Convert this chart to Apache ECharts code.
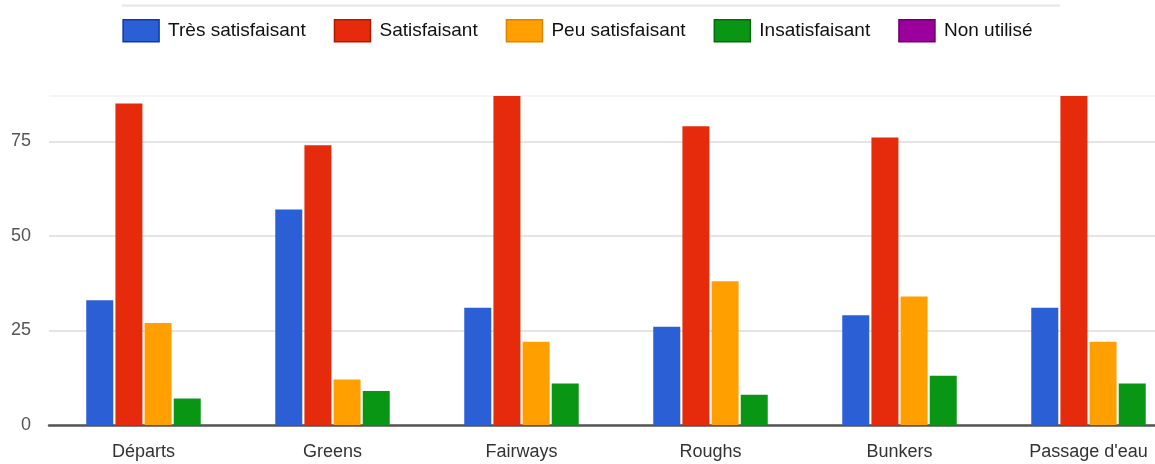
<!DOCTYPE html>
<html>
<head>
<meta charset="utf-8">
<script src="https://cdn.jsdelivr.net/npm/echarts@6/dist/echarts.min.js"></script>
<style>
html,body{margin:0;padding:0;background:#fff;}
#chart{width:1155px;height:464px;}
</style>
</head>
<body>
<div id="chart"></div>
<script>
const categories = ['Départs', 'Greens', 'Fairways', 'Roughs', 'Bunkers', "Passage d'eau"];
const tresSatisfaisant = [33, 57, 31, 26, 29, 31];
const satisfaisant = [85, 74, 88, 79, 76, 88];
const peuSatisfaisant = [27, 12, 22, 38, 34, 22];
const insatisfaisant = [7, 9, 11, 8, 13, 11];
const nonUtilise = [0, 0, 0, 0, 0, 0];
const yTicks = [0, 25, 50, 75];

const FONT = "'Liberation Sans', Arial, sans-serif";
const colors = ['#2a5fd6', '#e52b0c', '#ffa000', '#0a9615', '#9c009c'];
const borders = ['#0f3aa8', '#b01800', '#e08400', '#056b0a', '#6b006b'];
const names = ['Très satisfaisant', 'Satisfaisant', 'Peu satisfaisant', 'Insatisfaisant', 'Non utilisé'];
const datasets = [tresSatisfaisant, satisfaisant, peuSatisfaisant, insatisfaisant, nonUtilise];

const chart = echarts.init(document.getElementById('chart'), null, {renderer: 'canvas'});
chart.setOption({
  animation: false,
  color: colors,
  graphic: [{
    type: 'line', shape: {x1: 122, y1: 5.5, x2: 1060, y2: 5.5},
    style: {stroke: '#e6e6e6', lineWidth: 2}, silent: true
  }],
  legend: {
    top: 14,
    left: 'center',
    icon: 'rect',
    itemWidth: 36,
    itemHeight: 22,
    itemGap: 28,
    textStyle: {fontFamily: FONT, fontSize: 19, color: '#111', padding: [0, 0, 0, 4]},
    data: names.map((n, i) => ({name: n, itemStyle: {borderColor: borders[i], borderWidth: 1.5}}))
  },
  grid: {left: 49, width: 1134, top: 96, bottom: 39, containLabel: false, outerBoundsMode: 'none'},
  xAxis: {
    type: 'category',
    data: categories,
    axisTick: {show: false},
    axisLine: {lineStyle: {color: '#555', width: 2.5}},
    axisLabel: {fontFamily: FONT, fontSize: 18, color: '#333', margin: 18}
  },
  yAxis: {
    type: 'value',
    min: 0,
    max: 87,
    interval: 25,
    axisLine: {show: false},
    axisTick: {show: false},
    axisLabel: {
      fontFamily: FONT, fontSize: 18, color: '#555', margin: 18,
      formatter: v => (yTicks.indexOf(v) >= 0 ? String(v) : '')
    },
    splitLine: {lineStyle: {color: ['#e4e4e4', '#e4e4e4', '#e4e4e4', '#e4e4e4', '#f4f4f4'], width: 2}}
  },
  series: datasets.map((d, i) => ({
    name: names[i],
    type: 'bar',
    data: d,
    barWidth: 27,
    barGap: '8%',
    stack: i >= 3 ? 'last' : undefined,
    clip: true,
    itemStyle: {color: colors[i]}
  }))
});
</script>
</body>
</html>
